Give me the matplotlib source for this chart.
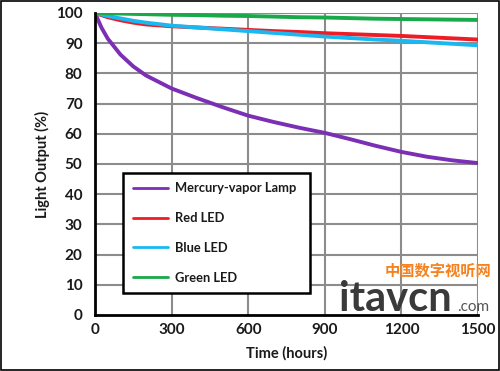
import matplotlib
matplotlib.use("Agg")
import matplotlib.pyplot as plt
from matplotlib.patches import Rectangle

plt.rcParams['font.family'] = ['Lato', 'DejaVu Sans']

hours = [0, 25, 50, 100, 150, 200, 300, 400, 500, 600, 700, 800, 900, 1000, 1100, 1200, 1300, 1400, 1500]
mercury = [100, 95.2, 91.5, 86.2, 82.3, 79.3, 75.0, 71.8, 68.8, 66.0, 63.9, 62.0, 60.3, 58.2, 56.0, 54.0, 52.4, 51.2, 50.3]
red = [100, 99.3, 98.6, 97.6, 96.8, 96.2, 95.6, 95.2, 94.8, 94.4, 94.0, 93.7, 93.3, 93.0, 92.7, 92.4, 92.0, 91.6, 91.2]
blue = [100, 99.5, 99.0, 98.2, 97.4, 96.8, 95.8, 95.2, 94.6, 94.0, 93.4, 92.8, 92.2, 91.7, 91.2, 90.8, 90.3, 89.8, 89.3]
green = [100, 99.95, 99.9, 99.8, 99.7, 99.6, 99.4, 99.3, 99.1, 99.0, 98.8, 98.6, 98.5, 98.3, 98.1, 98.0, 97.9, 97.8, 97.7]

labels = ["Mercury-vapor Lamp", "Red LED", "Blue LED", "Green LED"]
colors = ["#7a2fb5", "#ee1c24", "#1ab8f0", "#19a84a"]
xticks = [0, 300, 600, 900, 1200, 1500]
yticks = list(range(0, 101, 10))

fig = plt.figure(figsize=(5.0, 3.71), dpi=100)
fig.patch.set_facecolor("white")
fig.add_artist(Rectangle((0.002, 0.003), 0.995, 0.993, transform=fig.transFigure,
                         fill=False, edgecolor="black", linewidth=1.2))

ax = fig.add_axes([0.19, 0.151, 0.766, 0.814])
for x in xticks[1:]:
    ax.axvline(x, color="#8c8c8c", linewidth=1.5, zorder=0)
for y in yticks[1:]:
    ax.axhline(y, color="#8c8c8c", linewidth=1.5, zorder=0)

for series, lab, col in zip([mercury, red, blue, green], labels, colors):
    ax.plot(hours, series, color=col, linewidth=2.8, label=lab, solid_capstyle="round")

ax.set_xlim(0, 1500)
ax.set_ylim(0, 100)
ax.set_xticks(xticks)
ax.set_yticks(yticks)
ax.tick_params(length=0, labelsize=11)
ax.tick_params(axis="y", pad=9)
ax.tick_params(axis="x", pad=6)
for t in ax.get_xticklabels() + ax.get_yticklabels():
    t.set_fontweight("bold")
    t.set_color("#1a1a1a")
for s in ["top", "right"]:
    ax.spines[s].set_visible(False)
for s in ["left", "bottom"]:
    ax.spines[s].set_linewidth(2)
    ax.spines[s].set_color("black")

ax.set_xlabel("Time (hours)", fontsize=10.5, fontweight="bold", labelpad=6, color="#1a1a1a")
ax.set_ylabel("Light Output (%)", fontsize=10.5, fontweight="bold", labelpad=4, color="#1a1a1a")

leg = ax.legend(loc="upper left", bbox_to_anchor=(0.057, 0.073, 0.52, 0.42), mode="expand",
                fontsize=9.3, handlelength=2.7, handletextpad=0.55, labelspacing=1.38,
                borderpad=0.75, fancybox=False, framealpha=1, edgecolor="black")
leg.get_frame().set_linewidth(1.8)
for t in leg.get_texts():
    t.set_fontweight("bold")
    t.set_color("#1a1a1a")
for h in leg.get_lines():
    h.set_linewidth(2)

# watermark
fig.text(0.77, 0.272, "中国数字视听网", fontsize=11, color="#f5821f", fontstyle="italic",
         fontweight="bold", family=["Noto Sans CJK SC"], ha="left", va="center")
fig.text(0.678, 0.163, "itavcn", fontsize=30, color="#3a3a3a", fontweight="bold",
         ha="left", va="baseline")
fig.text(0.915, 0.163, ".com", fontsize=11, color="#555555", ha="left", va="baseline")

fig.savefig("out.png", dpi=100)
